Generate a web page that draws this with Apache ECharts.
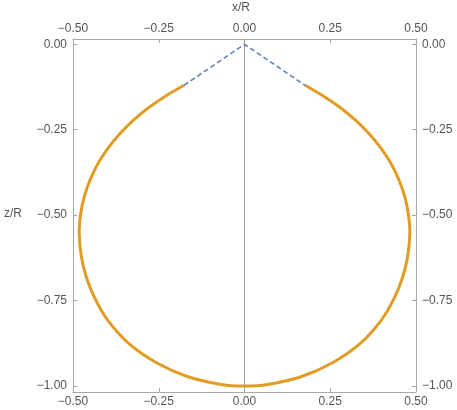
<!DOCTYPE html>
<html>
<head>
<meta charset="utf-8">
<script src="https://cdn.jsdelivr.net/npm/echarts@6/dist/echarts.min.js"></script>
<style>
html,body{margin:0;padding:0;background:#fff;}
#c{width:457px;height:410px;}
</style>
</head>
<body>
<div id="c"></div>
<script>
// Drop-shaped profile (orange), x/R and z/R
const curveX = [-0.1765,-0.234,-0.279,-0.321,-0.360,-0.395,-0.425,-0.449,-0.467,-0.478,-0.482,-0.4755,-0.4615,-0.4365,-0.399,-0.336,-0.258,-0.1645,-0.0675,0.000,
                 0.0675,0.1645,0.258,0.336,0.399,0.4365,0.4615,0.4755,0.482,0.478,0.467,0.449,0.425,0.395,0.360,0.321,0.279,0.234,0.1765];
const curveZ = [-0.120,-0.154,-0.185,-0.220,-0.258,-0.300,-0.345,-0.394,-0.445,-0.499,-0.553,-0.622,-0.680,-0.743,-0.807,-0.877,-0.931,-0.973,-0.9955,-1.000,
                -0.9955,-0.973,-0.931,-0.877,-0.807,-0.743,-0.680,-0.622,-0.553,-0.499,-0.445,-0.394,-0.345,-0.300,-0.258,-0.220,-0.185,-0.154,-0.120];
// Dashed cone lines (blue)
const coneX = [-0.1765, 0.000, 0.1765];
const coneZ = [-0.120, 0.000, -0.120];
// Tick values
const xTicks = [-0.5, -0.25, 0, 0.25, 0.5];
const zTicks = [0, -0.25, -0.5, -0.75, -1.0];

const fmt = v => (v < 0 ? '\u2212' : '') + Math.abs(v).toFixed(2);
const frameColor = '#a8a8a8';
const labelStyle = {color:'#555', fontFamily:'Liberation Sans, Arial, sans-serif', fontSize:12};

function xAx(pos){
  return {
    type:'value', position:pos, min:-0.5, max:0.5,
    axisLine:{show:true, onZero:false, lineStyle:{color:frameColor, width:1}},
    axisTick:{show:true, inside:true, length:4, customValues:xTicks, lineStyle:{color:frameColor}},
    axisLabel:Object.assign({show:true, margin:4, customValues:xTicks, formatter:fmt}, labelStyle),
    splitLine:{show:false}
  };
}
function yAx(pos){
  return {
    type:'value', position:pos, min:-1.0175, max:0.0155,
    axisLine:{show:true, onZero:false, lineStyle:{color:frameColor, width:1}},
    axisTick:{show:true, inside:true, length:4, customValues:zTicks, lineStyle:{color:frameColor}},
    axisLabel:Object.assign({show:true, margin:6, customValues:zTicks, formatter:fmt}, labelStyle),
    splitLine:{show:false}
  };
}

// Smooth curve through the data points (Catmull-Rom as cubic Bezier), positions from the axes
function renderCurve(params, api){
  const pts = curveX.map((x,i)=>api.coord([x, curveZ[i]]));
  const n = pts.length;
  let d = 'M' + pts[0][0] + ' ' + pts[0][1];
  for (let i = 0; i < n - 1; i++) {
    const p0 = pts[i-1] || pts[i], p1 = pts[i], p2 = pts[i+1], p3 = pts[i+2] || pts[i+1];
    const c1x = p1[0] + (p2[0]-p0[0])/6, c1y = p1[1] + (p2[1]-p0[1])/6;
    const c2x = p2[0] - (p3[0]-p1[0])/6, c2y = p2[1] - (p3[1]-p1[1])/6;
    d += ' C' + c1x + ' ' + c1y + ' ' + c2x + ' ' + c2y + ' ' + p2[0] + ' ' + p2[1];
  }
  return {
    type:'path',
    shape:{pathData:d},
    style:{stroke:'#E19C24', lineWidth:3, fill:null, lineCap:'butt', lineJoin:'round'}
  };
}

const chart = echarts.init(document.getElementById('c'), null, {renderer:'canvas'});
chart.setOption({
  animation:false,
  backgroundColor:'#fff',
  grid:{left:73, right:41, top:39, bottom:18, containLabel:false},
  xAxis:[xAx('bottom'), xAx('top')],
  yAxis:[yAx('left'), yAx('right')],
  graphic:[
    {type:'text', left:232, top:2, style:{text:'x/R', fill:'#555', font:'12px Liberation Sans, Arial, sans-serif'}},
    {type:'text', left:4, top:208, style:{text:'z/R', fill:'#555', font:'12px Liberation Sans, Arial, sans-serif'}}
  ],
  series:[
    {
      type:'line', xAxisIndex:0, yAxisIndex:0, symbol:'none', silent:true,
      data:[[0,-1.0175],[0,0.0155]],
      lineStyle:{color:'#a0a0a0', width:1}
    },
    {
      type:'line', xAxisIndex:0, yAxisIndex:0, symbol:'none', silent:true,
      data:coneX.map((x,i)=>[x, coneZ[i]]),
      lineStyle:{color:'#5E81B5', width:1.6, type:[5,3]}
    },
    {
      type:'custom', xAxisIndex:0, yAxisIndex:0, silent:true, clip:false,
      data:[[curveX[0], curveZ[0]]],
      renderItem:renderCurve
    }
  ]
});
</script>
</body>
</html>
